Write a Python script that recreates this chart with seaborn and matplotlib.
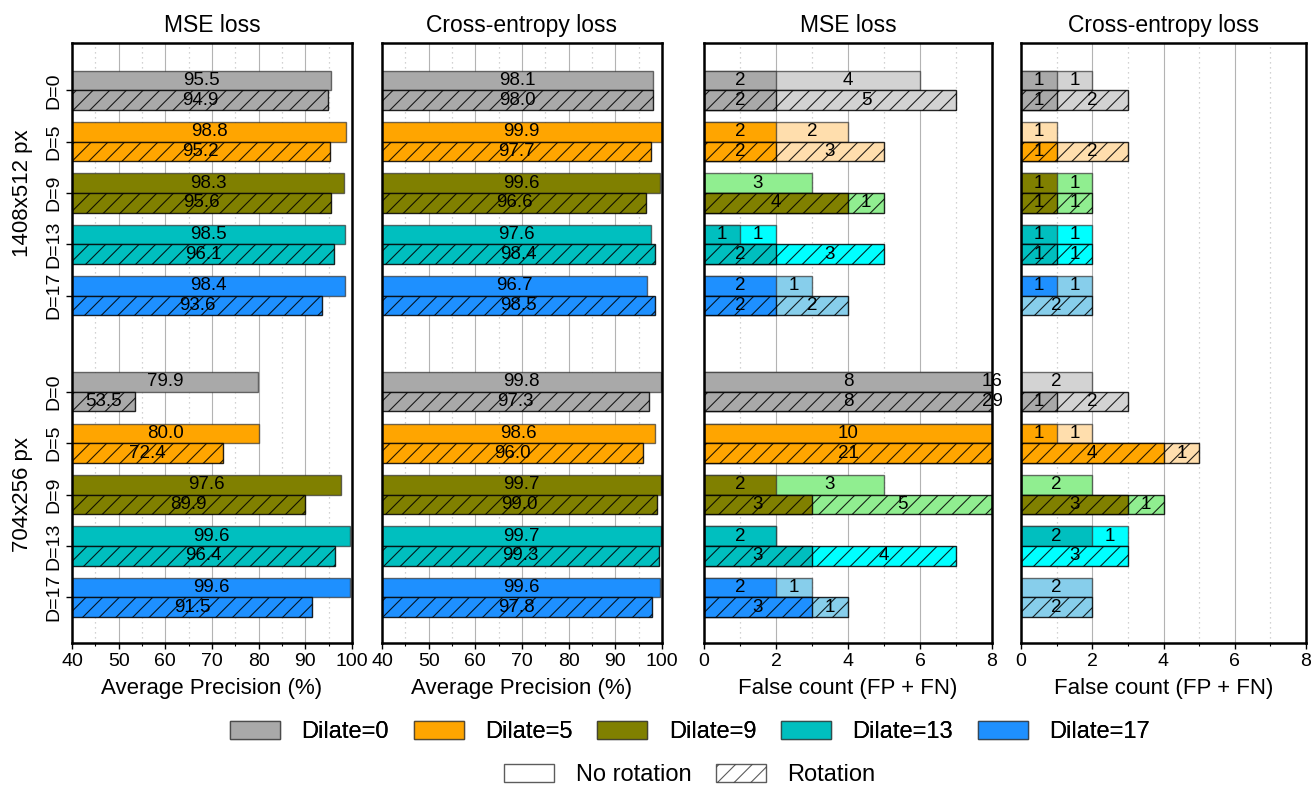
import numpy as np
import pandas as pd
import matplotlib
matplotlib.use("Agg")
import matplotlib.pyplot as plt
from matplotlib.patches import Patch
from matplotlib.ticker import MultipleLocator
from matplotlib.transforms import blended_transform_factory
import seaborn as sns

# ---------------------------------------------------------------- data
resolutions = ["1408x512 px", "704x256 px"]
dilate_ticks = ["D=0", "D=5", "D=9", "D=13", "D=17"]
legend_labels = ["Dilate=0", "Dilate=5", "Dilate=9", "Dilate=13", "Dilate=17"]
panel_titles = ["MSE loss", "Cross-entropy loss", "MSE loss", "Cross-entropy loss"]

# Average precision (%) -- rows: 1408x512 D=0..17, then 704x256 D=0..17
ap_mse_norot = [95.5, 98.8, 98.3, 98.5, 98.4, 79.9, 80.0, 97.6, 99.6, 99.6]
ap_mse_rot = [94.9, 95.2, 95.6, 96.1, 93.6, 53.5, 72.4, 89.9, 96.4, 91.5]
ap_ce_norot = [98.1, 99.9, 99.6, 97.6, 96.7, 99.8, 98.6, 99.7, 99.7, 99.6]
ap_ce_rot = [98.0, 97.7, 96.6, 98.4, 98.5, 97.3, 96.0, 99.0, 99.3, 97.8]

# False counts, split into the dark (fp) and light (fn) segment of each bar
fc_mse_norot_fp = [2, 2, 0, 1, 2, 8, 10, 2, 2, 2]
fc_mse_norot_fn = [4, 2, 3, 1, 1, 16, 0, 3, 0, 1]
fc_mse_rot_fp = [2, 2, 4, 2, 2, 8, 21, 3, 3, 3]
fc_mse_rot_fn = [5, 3, 1, 3, 2, 29, 0, 5, 4, 1]
fc_ce_norot_fp = [1, 0, 1, 1, 1, 0, 1, 0, 2, 0]
fc_ce_norot_fn = [1, 1, 1, 1, 1, 2, 1, 2, 1, 2]
fc_ce_rot_fp = [1, 1, 1, 1, 0, 1, 4, 3, 0, 0]
fc_ce_rot_fn = [2, 2, 1, 1, 2, 2, 1, 1, 3, 2]

dark_colors = ["#A9A9A9", "#FFA500", "#808000", "#00BFBF", "#1E90FF"]
light_colors = ["#D3D3D3", "#FFDEAD", "#90EE90", "#00FFFF", "#87CEEB"]

# ---------------------------------------------------------------- style
sns.set_theme(style="ticks")
plt.rcParams["font.family"] = ["Liberation Sans", "DejaVu Sans"]
plt.rcParams["text.color"] = "black"
plt.rcParams["axes.labelcolor"] = "black"
plt.rcParams["axes.titlecolor"] = "black"
plt.rcParams["xtick.color"] = "black"
plt.rcParams["ytick.color"] = "black"
plt.rcParams["xtick.labelcolor"] = "black"
plt.rcParams["ytick.labelcolor"] = "black"
plt.rcParams["legend.labelcolor"] = "black"
plt.rcParams["hatch.linewidth"] = 0.8
plt.rcParams["axes.linewidth"] = 1.8
plt.rcParams["axes.edgecolor"] = "black"

GROUP_GAP = 1.87
BAR_H = 0.383
tick_pos = np.array([i + g * (4 + GROUP_GAP) for g in range(2) for i in range(5)])
row_dark = dark_colors * 2
row_light = light_colors * 2

fig = plt.figure(figsize=(13.14, 7.85), dpi=100)
W, H = 1314, 785
boxes = [(72, 352), (382, 662), (704, 992), (1021, 1306)]
top_px, bot_px = 43, 643
axes = [fig.add_axes([l / W, 1 - bot_px / H, (r - l) / W, (bot_px - top_px) / H]) for l, r in boxes]

EDGE_PLAIN = (0.2, 0.2, 0.2, 0.7)
EDGE_HATCH = (0, 0, 0, 0.85)


def draw_bars(ax, values, ypos, colors, hatched, edge):
    df = pd.DataFrame({"value": values, "ypos": ypos,
                       "row": [f"r{k}" for k in range(len(values))]})
    n0 = len(ax.patches)
    sns.barplot(data=df, x="value", y="ypos", hue="row",
                palette=dict(zip(df["row"], colors)), orient="y",
                native_scale=True, dodge=False, width=BAR_H, saturation=1,
                errorbar=None, legend=False, edgecolor=edge, linewidth=1.0,
                ax=ax)
    if hatched:
        for p in ax.patches[n0:]:
            p.set_hatch("//")


label_kw = dict(ha="center", va="center", fontsize=13.5, color="black", clip_on=False)

# Average precision panels
for ax, norot, rot in [(axes[0], ap_mse_norot, ap_mse_rot), (axes[1], ap_ce_norot, ap_ce_rot)]:
    xmin = 40
    y_top = tick_pos - BAR_H / 2
    y_bot = tick_pos + BAR_H / 2
    draw_bars(ax, norot, y_top, row_dark, False, EDGE_PLAIN)
    draw_bars(ax, rot, y_bot, row_dark, True, EDGE_HATCH)
    for y, v in zip(y_top, norot):
        ax.text((xmin + v) / 2, y, f"{v:.1f}", **label_kw)
    for y, v in zip(y_bot, rot):
        ax.text((xmin + v) / 2, y, f"{v:.1f}", **label_kw)
    ax.set_xlim(40, 100)
    ax.xaxis.set_major_locator(MultipleLocator(10))
    ax.xaxis.set_minor_locator(MultipleLocator(5))
    ax.set_xlabel("Average Precision (%)", fontsize=16, labelpad=6)

# False count panels (light total drawn first, dark part laid over it)
fc_sets = [(axes[2], fc_mse_norot_fp, fc_mse_norot_fn, fc_mse_rot_fp, fc_mse_rot_fn),
           (axes[3], fc_ce_norot_fp, fc_ce_norot_fn, fc_ce_rot_fp, fc_ce_rot_fn)]
XMAX = 8
for ax, nfp, nfn, rfp, rfn in fc_sets:
    for fp, fn, ys, hatched, edge in [(nfp, nfn, tick_pos - BAR_H / 2, False, EDGE_PLAIN),
                                      (rfp, rfn, tick_pos + BAR_H / 2, True, EDGE_HATCH)]:
        totals = [a + b for a, b in zip(fp, fn)]
        draw_bars(ax, totals, ys, row_light, hatched, edge)
        draw_bars(ax, fp, ys, row_dark, hatched, edge)
        for y, a, b in zip(ys, fp, fn):
            a_end = min(a, XMAX)
            b_end = min(a + b, XMAX)
            if a > 0:
                ax.text(a_end / 2, y, f"{a}", **label_kw)
            if b > 0:
                ax.text((a_end + b_end) / 2, y, f"{b}", **label_kw)
    ax.set_xlim(0, XMAX)
    ax.xaxis.set_major_locator(MultipleLocator(2))
    ax.xaxis.set_minor_locator(MultipleLocator(1))
    ax.set_xlabel("False count (FP + FN)", fontsize=16, labelpad=6)

for k, ax in enumerate(axes):
    ax.set_ylim(tick_pos[-1] + 0.89, tick_pos[0] - 0.921)
    ax.set_axisbelow(True)
    ax.grid(which="major", axis="x", color="#b3b3b3", linewidth=0.8, linestyle="-")
    ax.grid(which="minor", axis="x", color="#c4c4c4", linewidth=0.9, linestyle=(0, (1, 3)))
    ax.grid(which="major", axis="y", visible=False)
    ax.set_title(panel_titles[k], fontsize=16.5, pad=8, color="black")
    ax.tick_params(axis="x", which="major", direction="out", length=4, width=1.0,
                   labelsize=14, pad=3, color="black", labelcolor="black")
    ax.tick_params(axis="x", which="minor", direction="out", length=2.5, width=0.8, color="black")
    for s in ax.spines.values():
        s.set_visible(True)
        s.set_linewidth(1.8)
        s.set_color("black")
    if k == 0:
        ax.set_yticks(tick_pos)
        ax.set_yticklabels(dilate_ticks * 2, rotation=90, va="center", fontsize=14)
        ax.tick_params(axis="y", direction="out", length=4, width=1.0, pad=3,
                       color="black", labelcolor="black")
        ax.set_ylabel("")
        trans = blended_transform_factory(ax.transAxes, ax.transData)
        for g, name in enumerate(resolutions):
            ax.text(-0.176, tick_pos[g * 5 + 2], name, transform=trans, rotation=90,
                    ha="center", va="center", fontsize=16, color="black")
    else:
        ax.set_yticks([])
        ax.set_ylabel("")

# Legends
leg_kw = dict(loc="center", frameon=False, fontsize=17, handlelength=2.12, handleheight=0.78,
              handletextpad=0.9, columnspacing=1.06, labelcolor="black")
color_handles = [Patch(facecolor=c, edgecolor=EDGE_PLAIN, linewidth=1.0) for c in dark_colors]
leg1 = fig.legend(color_handles, legend_labels, bbox_to_anchor=(690 / W, 1 - 732 / H),
                  ncol=5, **leg_kw)
rot_handles = [Patch(facecolor="white", edgecolor=(0.2, 0.2, 0.2, 0.8), linewidth=1.0),
               Patch(facecolor="white", edgecolor=(0.2, 0.2, 0.2, 0.8), linewidth=1.0, hatch="//")]
fig.legend(rot_handles, ["No rotation", "Rotation"], bbox_to_anchor=(690 / W, 1 - 775 / H),
           ncol=2, **leg_kw)
fig.add_artist(leg1)

fig.savefig("out.png", dpi=100)
